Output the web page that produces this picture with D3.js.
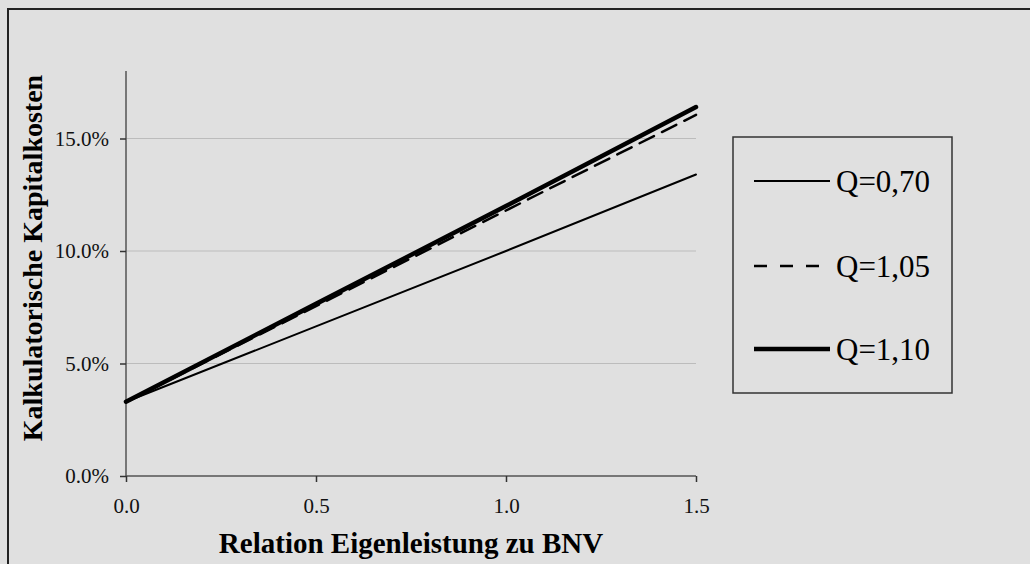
<!DOCTYPE html>
<html>
<head>
<meta charset="utf-8">
<script src="https://cdn.jsdelivr.net/npm/d3@7"></script>
<style>
  body { margin: 0; background: #e0e0e0; }
  svg { display: block; font-family: "Liberation Serif", "Times New Roman", serif; }
</style>
</head>
<body>
<div id="chart"></div>
<script>
// Relation Eigenleistung zu BNV (x) vs. kalkulatorische Kapitalkosten (y)
const xValues = [0.0, 0.5, 1.0, 1.5];
const q070 = [0.033, 0.0665, 0.100, 0.134];
const q105 = [0.033, 0.0755, 0.118, 0.1605];
const q110 = [0.033, 0.0765, 0.120, 0.164];
const seriesNames = ["Q=0,70", "Q=1,05", "Q=1,10"];
const xTicks = [0.0, 0.5, 1.0, 1.5];
const yTicks = [0.00, 0.05, 0.10, 0.15];

const W = 1030, H = 564;
const margin = { top: 71, left: 126, right: 334, bottom: 88 };

const svg = d3.select("#chart").append("svg")
    .attr("width", W)
    .attr("height", H);

svg.append("rect").attr("width", W).attr("height", H).attr("fill", "#e0e0e0");
// outer frame (runs off the right and bottom edge)
svg.append("rect")
    .attr("x", 8).attr("y", 9)
    .attr("width", W + 20).attr("height", H + 20)
    .attr("fill", "none").attr("stroke", "#222").attr("stroke-width", 2);

const x = d3.scaleLinear().domain([0, 1.5]).range([margin.left, W - margin.right]);
const y = d3.scaleLinear().domain([0, 0.18]).range([H - margin.bottom, margin.top]);

// gridlines
svg.append("g").selectAll("line")
    .data(yTicks.filter(d => d > 0))
    .join("line")
    .attr("x1", x(0)).attr("x2", x(1.5))
    .attr("y1", d => y(d)).attr("y2", d => y(d))
    .attr("stroke", "#bcbcbc").attr("stroke-width", 1);

// y axis
const yAxis = svg.append("g")
    .attr("transform", "translate(" + x(0) + ",0)")
    .call(d3.axisLeft(y).tickValues(yTicks).tickFormat(d3.format(".1%")).tickSize(6).tickPadding(11));
// x axis
const xAxis = svg.append("g")
    .attr("transform", "translate(0," + y(0) + ")")
    .call(d3.axisBottom(x).tickValues(xTicks).tickFormat(d3.format(".1f")).tickSize(6).tickPadding(16));

[yAxis, xAxis].forEach(a => {
    a.attr("font-size", 21).attr("font-family", "Liberation Serif, Times New Roman, serif");
    a.select(".domain").attr("stroke", "#555").attr("stroke-width", 1.5);
    a.selectAll(".tick line").attr("stroke", "#333").attr("stroke-width", 1.5);
    a.selectAll("text").attr("fill", "#111");
});
// y axis continues to the top of the domain even though no tick there
yAxis.select(".domain").attr("d", "M0," + y(0) + "V" + y(0.18));
xAxis.select(".domain").attr("d", "M" + x(0) + ",0H" + x(1.5));

// lines
const styles = [
    { data: q070, width: 2, dash: null },
    { data: q105, width: 2.5, dash: "16,9" },
    { data: q110, width: 4.5, dash: null }
];
const line = d3.line().x(d => x(d[0])).y(d => y(d[1]));
svg.append("g").selectAll("path")
    .data(styles)
    .join("path")
    .attr("d", s => line(xValues.map((v, i) => [v, s.data[i]])))
    .attr("fill", "none")
    .attr("stroke", "#000")
    .attr("stroke-width", s => s.width)
    .attr("stroke-dasharray", s => s.dash)
    .attr("stroke-linecap", "round");

// axis titles
svg.append("text")
    .attr("x", (x(0) + x(1.5)) / 2)
    .attr("y", 553)
    .attr("text-anchor", "middle")
    .attr("font-weight", "bold")
    .attr("font-size", 29)
    .attr("fill", "#000")
    .text("Relation Eigenleistung zu BNV");

svg.append("text")
    .attr("transform", "translate(42,258) rotate(-90)")
    .attr("text-anchor", "middle")
    .attr("font-weight", "bold")
    .attr("font-size", 28)
    .attr("fill", "#000")
    .text("Kalkulatorische Kapitalkosten");

// legend
const legend = svg.append("g").attr("transform", "translate(733,137)");
legend.append("rect")
    .attr("width", 219).attr("height", 256)
    .attr("fill", "#e0e0e0").attr("stroke", "#333").attr("stroke-width", 1.5);
const rowY = [44, 129, 212];
const items = legend.selectAll("g.item")
    .data(styles)
    .join("g")
    .attr("class", "item")
    .attr("transform", (s, i) => "translate(0," + rowY[i] + ")");
items.append("line")
    .attr("x1", 21).attr("x2", 97)
    .attr("stroke", "#000")
    .attr("stroke-width", s => s.width)
    .attr("stroke-dasharray", s => s.dash ? "13,13" : null);
items.append("text")
    .attr("x", 103)
    .attr("dy", "0.35em")
    .attr("font-size", 31)
    .attr("fill", "#000")
    .text((s, i) => seriesNames[i]);
</script>
</body>
</html>
